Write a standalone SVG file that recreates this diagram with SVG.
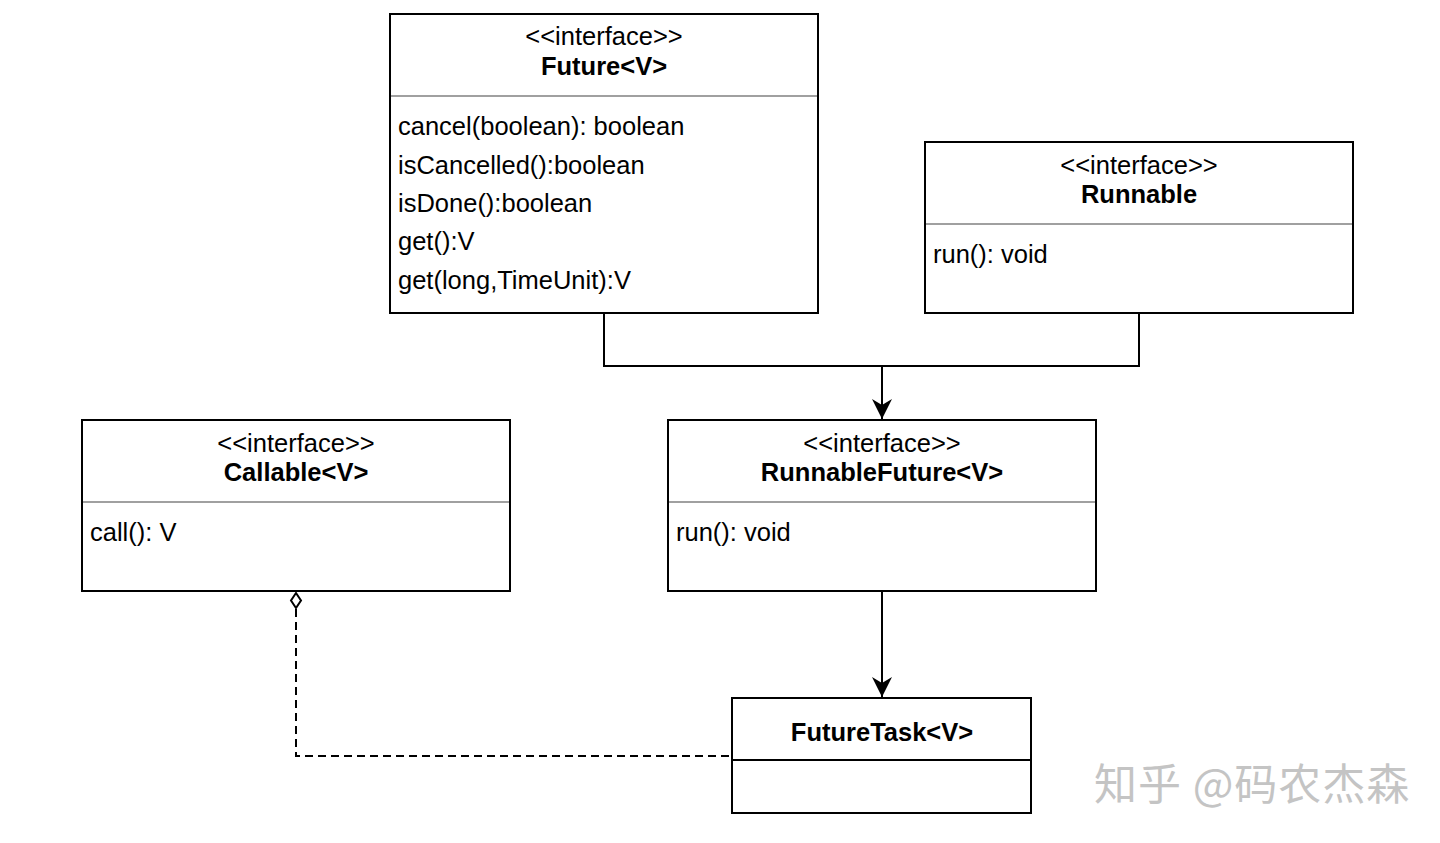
<svg xmlns="http://www.w3.org/2000/svg" width="1440" height="843" viewBox="0 0 1440 843">
<style>
.box{fill:#fff;stroke:#000;stroke-width:2}
.sep{stroke:#a0a0a0;stroke-width:2}
.sepb{stroke:#000;stroke-width:2}
text{font-family:"Liberation Sans",Arial,Helvetica,sans-serif;font-size:25.5px;fill:#000}
.c{text-anchor:middle}
.b{font-weight:bold}
.conn{fill:none;stroke:#000;stroke-width:2}
.dash{fill:none;stroke:#000;stroke-width:2;stroke-dasharray:8 5}
.wm{font-family:"Noto Sans CJK SC","Liberation Sans",sans-serif;font-size:43px;letter-spacing:1px;fill:#c4c4c4}
</style>
<defs>
<marker id="arr" viewBox="0 0 20 20" refX="20" refY="10" markerWidth="20" markerHeight="20" markerUnits="userSpaceOnUse" orient="auto">
<path d="M0,0 L20,10 L0,20 L6,10 Z" fill="#000"/>
</marker>
</defs>
<rect width="1440" height="843" fill="#fff"/>
<g id="connectors">
<polyline class="conn" points="604,313 604,366 1139,366 1139,313"/>
<line class="conn" x1="882" y1="366" x2="882" y2="419" marker-end="url(#arr)"/>
<line class="conn" x1="882" y1="591" x2="882" y2="697" marker-end="url(#arr)"/>
<polyline class="dash" points="296,609 296,756 732,756"/>
<polygon points="296,593 301,600.5 296,608 291,600.5" fill="#fff" stroke="#000" stroke-width="2"/>
</g>
<g id="future">
<rect class="box" x="390" y="14" width="428" height="299"/>
<line class="sep" x1="391" y1="96" x2="817" y2="96"/>
<text class="c" x="604" y="45">&lt;&lt;interface&gt;&gt;</text>
<text class="c b" x="604" y="75">Future&lt;V&gt;</text>
<text x="398" y="135">cancel(boolean): boolean</text>
<text x="398" y="173.5">isCancelled():boolean</text>
<text x="398" y="212">isDone():boolean</text>
<text x="398" y="250">get():V</text>
<text x="398" y="288.5">get(long,TimeUnit):V</text>
</g>
<g id="runnable">
<rect class="box" x="925" y="142" width="428" height="171"/>
<line class="sep" x1="926" y1="224" x2="1352" y2="224"/>
<text class="c" x="1139" y="174">&lt;&lt;interface&gt;&gt;</text>
<text class="c b" x="1139" y="203">Runnable</text>
<text x="933" y="263">run(): void</text>
</g>
<g id="callable">
<rect class="box" x="82" y="420" width="428" height="171"/>
<line class="sep" x1="83" y1="502" x2="509" y2="502"/>
<text class="c" x="296" y="452">&lt;&lt;interface&gt;&gt;</text>
<text class="c b" x="296" y="481">Callable&lt;V&gt;</text>
<text x="90" y="541">call(): V</text>
</g>
<g id="runnablefuture">
<rect class="box" x="668" y="420" width="428" height="171"/>
<line class="sep" x1="669" y1="502" x2="1095" y2="502"/>
<text class="c" x="882" y="452">&lt;&lt;interface&gt;&gt;</text>
<text class="c b" x="882" y="481">RunnableFuture&lt;V&gt;</text>
<text x="676" y="541">run(): void</text>
</g>
<g id="futuretask">
<rect class="box" x="732" y="698" width="299" height="115"/>
<line class="sepb" x1="732" y1="760" x2="1031" y2="760"/>
<text class="c b" x="882" y="741">FutureTask&lt;V&gt;</text>
</g>
<text class="wm" x="1094" y="800">知乎 @码农杰森</text>
</svg>
